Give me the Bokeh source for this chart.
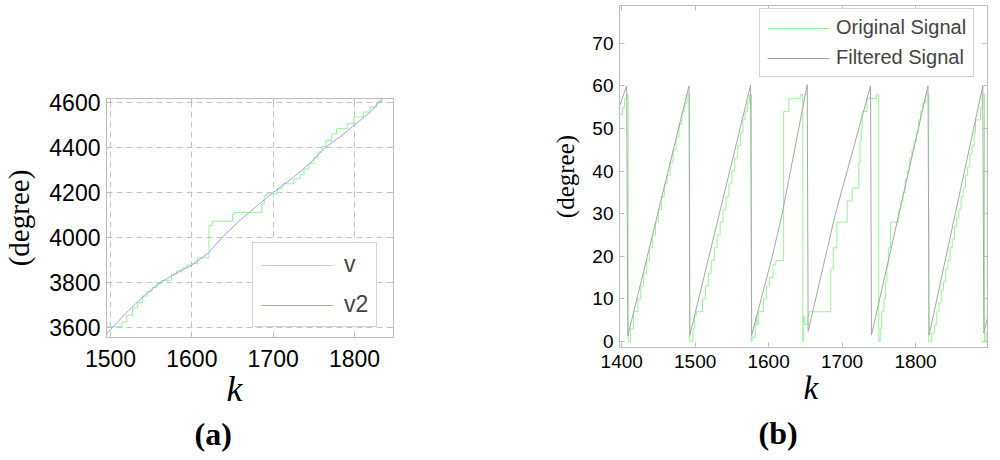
import math
from bokeh.plotting import figure
from bokeh.models import (Range1d, FixedTicker, LinearAxis, Legend, LegendItem,
                          Title, CustomJSTickFormatter)
from bokeh.layouts import row
from bokeh.embed import file_html
from bokeh.resources import INLINE

# ---------------- data: panel (a) ----------------
a_x_ticks = [1500, 1600, 1700, 1800]
a_y_ticks = [3600, 3800, 4000, 4200, 4400, 4600]

v2_k = [1495, 1500, 1520, 1540, 1561, 1580, 1600, 1620, 1637, 1660, 1680,
        1700, 1725, 1745, 1764, 1785, 1800, 1820, 1835]
v2_val = [3572, 3592, 3668, 3738, 3800, 3840, 3878, 3930, 4000, 4080, 4140,
          4200, 4268, 4330, 4400, 4455, 4500, 4560, 4620]

v_k = [1495, 1514, 1520, 1527, 1533, 1539, 1545, 1551, 1557, 1563, 1575, 1581,
       1588, 1594, 1600, 1607, 1621, 1625, 1650, 1652, 1686, 1689, 1692, 1705,
       1711, 1725, 1733, 1738, 1744, 1750, 1755, 1760, 1765, 1772, 1778, 1791,
       1799, 1811, 1819, 1827, 1833, 1836]
v_val = [3604, 3625, 3655, 3688, 3712, 3740, 3760, 3778, 3795, 3810, 3835, 3852,
         3865, 3878, 3885, 3910, 4054, 4073, 4103, 4112, 4150, 4187, 4194, 4217,
         4239, 4261, 4280, 4305, 4330, 4355, 4380, 4405, 4431, 4461, 4484, 4506,
         4536, 4558, 4580, 4602, 4620, 4620]

# ---------------- data: panel (b) ----------------
b_x_ticks = [1400, 1500, 1600, 1700, 1800]
b_y_ticks = [0, 10, 20, 30, 40, 50, 60, 70]

filt_k = [1397, 1406.8, 1408.3, 1491.6, 1492.8, 1575.5, 1577, 1605, 1618.5,
          1652.6, 1653.8, 1691, 1738.8, 1740, 1817, 1818.5, 1891.6, 1893, 1898.5]
filt_val = [55.2, 60, 1.3, 60, 1.5, 60.2, 1.5, 20, 30,
            60.3, 2.4, 30, 60, 1.5, 60, 1.5, 60, 2, 6]

orig_k = [1397, 1401, 1404, 1407, 1408.8, 1412, 1416, 1422, 1426, 1430, 1434,
          1438, 1442, 1446, 1450, 1454, 1458, 1462, 1466, 1470, 1474, 1478,
          1482, 1486, 1489, 1492.5, 1497, 1499, 1501.6, 1510, 1514, 1518, 1522,
          1526, 1530, 1534, 1538, 1542, 1546, 1550, 1554, 1558, 1562, 1565,
          1568, 1571, 1574, 1576.5, 1577.5, 1582, 1583, 1584, 1586, 1593, 1597,
          1601, 1606, 1610, 1620.5, 1627.5, 1643, 1646.5, 1647.2, 1649, 1652.6,
          1655, 1684.6, 1688, 1693, 1707, 1713.8, 1722.8, 1724.5, 1726, 1727.4,
          1734, 1747, 1750, 1752, 1754, 1757, 1759, 1761, 1763, 1766, 1777.3,
          1780, 1783, 1786, 1789, 1792, 1795, 1798, 1801, 1804, 1807, 1810,
          1814, 1818, 1822, 1826, 1829, 1832, 1835, 1838, 1841, 1844, 1847,
          1850, 1853, 1856, 1859, 1862, 1865, 1868, 1871, 1874, 1877, 1880,
          1881.7, 1888.5, 1890.8, 1893.9, 1896, 1898.5]
orig_val = [53.3, 55, 57, 58, 0, 3, 7, 10, 13, 16, 19,
            22, 25, 28, 31, 34, 37, 39, 42, 45, 48, 51,
            54, 56, 58, 0, 3, 6, 7, 10, 13, 16, 19,
            22, 25, 28, 31, 34, 37, 40, 43, 46, 49, 52,
            54, 56, 58, 0, 1, 4, 6, 4, 7, 10, 13,
            15, 18, 19, 54, 57, 58, 0, 6, 4, 6,
            7, 17, 22, 28, 33, 36, 42, 47, 50, 54,
            57, 58, 0, 3, 7, 10, 14, 18, 22, 28, 31,
            33, 35, 38, 40, 43, 45, 47, 49, 52, 54, 56,
            58, 0, 2, 4, 7, 9, 12, 14, 17, 19, 22,
            24, 27, 29, 31, 34, 36, 39, 41, 44, 46, 49,
            52, 55, 58, 0, 2, 2]

SANS = "Liberation Sans"
SERIF = "Liberation Serif"
FRAME = "#bdbdbd"
GREEN = "#98f498"
GRAY_LINE = "#a6a6a6"
BLUE = "#a0a0ff"


def staircase(ks, vs):
    """Turn (k, value) step breakpoints into a polyline that holds each value."""
    xs, ys = [], []
    for i in range(len(ks)):
        if i > 0:
            xs.append(ks[i])
            ys.append(vs[i - 1])
        xs.append(ks[i])
        ys.append(vs[i])
    return xs, ys


def style_axes(p, xt, yt, font_size, xstand, ystand):
    p.xaxis.ticker = FixedTicker(ticks=xt)
    p.yaxis.ticker = FixedTicker(ticks=yt)
    for ax in (p.xaxis[0], p.yaxis[0]):
        ax.axis_line_color = FRAME
        ax.major_tick_line_color = FRAME
        ax.major_tick_in = 5
        ax.major_tick_out = 0
        ax.minor_tick_line_color = None
        ax.major_label_text_font = SANS
        ax.major_label_text_font_size = font_size
        ax.major_label_text_color = "black"
    p.xaxis[0].major_label_standoff = xstand
    p.yaxis[0].major_label_standoff = ystand
    empty = CustomJSTickFormatter(code="return ''")
    for loc, t in (("above", xt), ("right", yt)):
        ax = LinearAxis(ticker=FixedTicker(ticks=t), formatter=empty)
        ax.axis_line_color = FRAME
        ax.major_tick_line_color = FRAME
        ax.major_tick_in = 5
        ax.major_tick_out = 0
        ax.minor_tick_line_color = None
        ax.major_label_text_font_size = "0px"
        ax.major_label_standoff = 0
        p.add_layout(ax, loc)
    p.outline_line_color = FRAME


def y_label(p, size, standoff):
    ax = p.yaxis[0]
    ax.axis_label = "(degree)"
    ax.axis_label_text_font = SERIF
    ax.axis_label_text_font_style = "normal"
    ax.axis_label_text_font_size = size
    ax.axis_label_text_color = "black"
    ax.axis_label_standoff = standoff


def bottom_title(p, text, size, style, offset, standoff):
    t = Title(text=text, align="left", offset=offset, standoff=standoff,
              text_font=SERIF, text_font_size=size, text_font_style=style,
              text_color="black")
    p.add_layout(t, "below")


# ---------------- panel (a) ----------------
pa = figure(width=500, height=460, output_backend="svg", toolbar_location=None,
            x_range=Range1d(1495, 1848), y_range=Range1d(3556, 4618),
            min_border_left=106, min_border_right=107, min_border_top=98,
            min_border_bottom=123, background_fill_color="white",
            border_fill_color="white", frame_align=False)
style_axes(pa, a_x_ticks, a_y_ticks, "23px", 12, 6)
y_label(pa, "29px", 11)
pa.xgrid.ticker = FixedTicker(ticks=a_x_ticks)
pa.ygrid.ticker = FixedTicker(ticks=a_y_ticks)
for g in (pa.xgrid[0], pa.ygrid[0]):
    g.grid_line_color = "#c4c4c4"
    g.grid_line_dash = "6 4"
    g.grid_line_width = 1

vx, vy = staircase(v_k, v_val)
r_v = pa.line(vx, vy, line_color=GREEN, line_width=1)
r_v2 = pa.line(v2_k, v2_val, line_color=BLUE, line_width=1)

leg_a = Legend(items=[LegendItem(label="v", renderers=[r_v]),
                      LegendItem(label="v2", renderers=[r_v2])],
               location=(146, 10), margin=0, padding=8, spacing=13,
               glyph_width=72, label_standoff=11,
               label_text_font=SANS, label_text_font_size="23px",
               border_line_color="#a8a8a8", background_fill_color="white",
               background_fill_alpha=1)
pa.add_layout(leg_a, "center")

bottom_title(pa, "k", "36px", "italic", 120, -6)
bottom_title(pa, "(a)", "32px", "bold", 88, 16)

# ---------------- panel (b) ----------------
pb = figure(width=498, height=460, output_backend="svg", toolbar_location=None,
            x_range=Range1d(1397, 1898), y_range=Range1d(-1.4, 78.87),
            min_border_left=119, min_border_right=11, min_border_top=5,
            min_border_bottom=111, background_fill_color="white",
            border_fill_color="white", frame_align=False)
style_axes(pb, b_x_ticks, b_y_ticks, "19px", 7, 6)
y_label(pb, "25px", 10)
pb.xgrid.grid_line_color = None
pb.ygrid.grid_line_color = None

ox, oy = staircase(orig_k, orig_val)
r_orig = pb.line(ox, oy, line_color=GREEN, line_width=1)
r_filt = pb.line(filt_k, filt_val, line_color=GRAY_LINE, line_width=1)

leg_b = Legend(items=[LegendItem(label="Original Signal", renderers=[r_orig]),
                      LegendItem(label="Filtered Signal", renderers=[r_filt])],
               location=(140, 270), margin=0, padding=7, spacing=7,
               glyph_width=62, label_standoff=7,
               label_text_font=SANS, label_text_font_size="20px",
               border_line_color="#a8a8a8", background_fill_color="white",
               background_fill_alpha=1)
pb.add_layout(leg_b, "center")

bottom_title(pb, "k", "33px", "italic", 184, -5)
bottom_title(pb, "(b)", "32px", "bold", 139, 19)

layout = row(pa, pb)
open("out.html", "w").write(file_html(layout, INLINE))
